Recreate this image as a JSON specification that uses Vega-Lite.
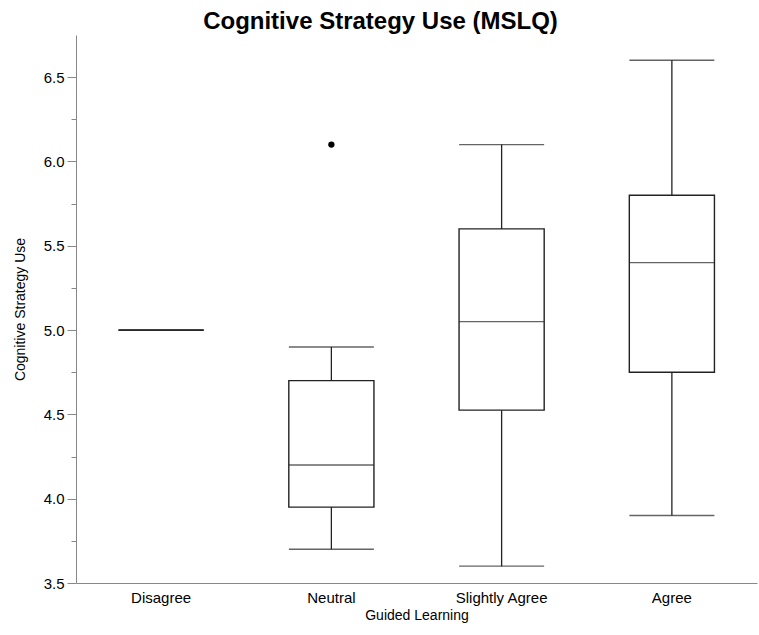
{
  "$schema": "https://vega.github.io/schema/vega-lite/v6.json",
  "autosize": "none",
  "width": 681,
  "height": 548,
  "padding": {"left": 76, "top": 35, "right": 2, "bottom": 52},
  "background": "white",
  "title": {
    "text": "Cognitive Strategy Use (MSLQ)",
    "font": "Liberation Sans",
    "fontSize": 24,
    "fontWeight": "bold",
    "color": "black",
    "anchor": "middle",
    "frame": "group",
    "dx": -36,
    "offset": 1
  },
  "config": {
    "view": {"stroke": null},
    "axis": {
      "labelFont": "Liberation Sans",
      "titleFont": "Liberation Sans",
      "labelFontSize": 15,
      "titleFontSize": 14,
      "titleFontWeight": "normal",
      "labelColor": "black",
      "titleColor": "black",
      "domainColor": "#888888",
      "tickColor": "#888888",
      "grid": false
    }
  },
  "datasets": {
    "boxes": [
      {"group": "Disagree", "lower": 5.0, "q1": 5.0, "median": 5.0, "q3": 5.0, "upper": 5.0},
      {"group": "Neutral", "lower": 3.7, "q1": 3.95, "median": 4.2, "q3": 4.7, "upper": 4.9},
      {"group": "Slightly Agree", "lower": 3.6, "q1": 4.525, "median": 5.05, "q3": 5.6, "upper": 6.1},
      {"group": "Agree", "lower": 3.9, "q1": 4.75, "median": 5.4, "q3": 5.8, "upper": 6.6}
    ],
    "outliers": [
      {"group": "Neutral", "value": 6.1}
    ]
  },
  "encoding": {
    "x": {
      "field": "group",
      "type": "nominal",
      "sort": ["Disagree", "Neutral", "Slightly Agree", "Agree"],
      "scale": {"paddingInner": 0, "paddingOuter": 0},
      "axis": {"title": "Guided Learning", "labelAngle": 0, "ticks": false, "labelPadding": 7, "titlePadding": 3}
    }
  },
  "layer": [
    {
      "data": {"name": "boxes"},
      "mark": {"type": "rule", "color": "#222222", "strokeWidth": 1.3},
      "encoding": {
        "y": {
          "field": "lower",
          "type": "quantitative",
          "scale": {"domain": [3.5, 6.75], "nice": false, "zero": false},
          "axis": {
            "title": "Cognitive Strategy Use",
            "values": [3.5, 3.75, 4.0, 4.25, 4.5, 4.75, 5.0, 5.25, 5.5, 5.75, 6.0, 6.25, 6.5],
            "labelExpr": "(round(datum.value*4) % 2 == 0) ? format(datum.value, '.1f') : ''",
            "tickSize": {"condition": {"test": "round(datum.value*4) % 2 != 0", "value": 5}, "value": 9},
            "labelPadding": 3,
            "titlePadding": 16
          }
        },
        "y2": {"field": "upper"}
      }
    },
    {
      "data": {"name": "boxes"},
      "mark": {"type": "bar", "width": {"band": 0.5}, "fill": "white", "stroke": "#222222", "strokeWidth": 1.4},
      "encoding": {
        "y": {"field": "q1", "type": "quantitative"},
        "y2": {"field": "q3"}
      }
    },
    {
      "data": {"name": "boxes"},
      "mark": {"type": "tick", "color": "#222222", "size": 85, "thickness": 1.4},
      "encoding": {"y": {"field": "lower", "type": "quantitative"}}
    },
    {
      "data": {"name": "boxes"},
      "mark": {"type": "tick", "color": "#222222", "size": 85, "thickness": 1.4},
      "encoding": {"y": {"field": "upper", "type": "quantitative"}}
    },
    {
      "data": {"name": "boxes"},
      "mark": {"type": "tick", "color": "#222222", "size": 85, "thickness": 1.4},
      "encoding": {"y": {"field": "median", "type": "quantitative"}}
    },
    {
      "data": {"name": "outliers"},
      "mark": {"type": "point", "filled": true, "color": "black", "size": 40, "opacity": 1},
      "encoding": {"y": {"field": "value", "type": "quantitative"}}
    }
  ]
}
